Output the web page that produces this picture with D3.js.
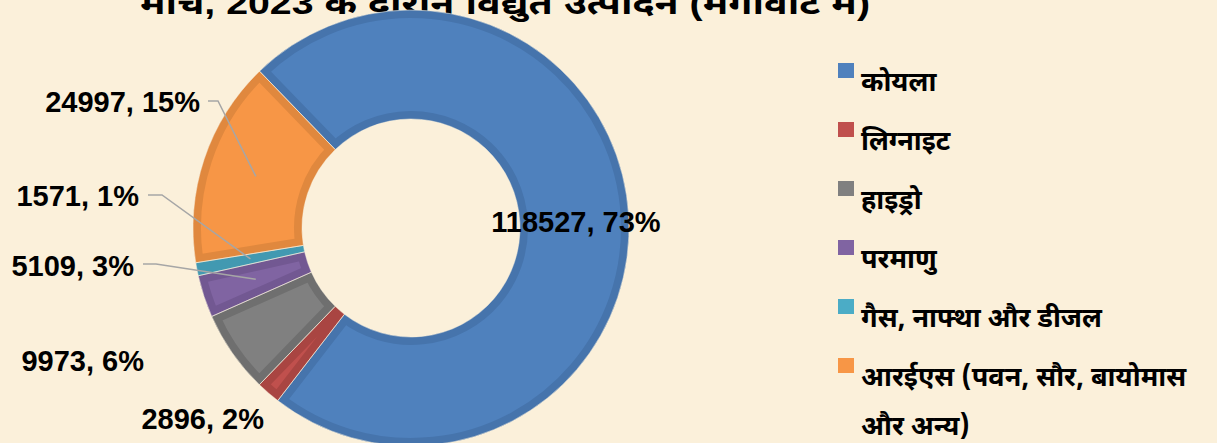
<!DOCTYPE html>
<html><head><meta charset="utf-8">
<script src="https://cdn.jsdelivr.net/npm/d3@7"></script>
<style>
html,body{margin:0;padding:0;background:#FBF0DA;overflow:hidden}
svg{display:block}
</style></head>
<body>
<svg id="c" width="1217" height="443"></svg>
<script>
const title = "मार्च, 2023 के दौरान विद्युत उत्पादन (मेगावाट में)";
const categories = ["कोयला","लिग्नाइट","हाइड्रो","परमाणु","गैस, नाफ्था और डीजल","आरईएस (पवन, सौर, बायोमास और अन्य)"];
const values = [118527, 2896, 9973, 5109, 1571, 24997];
const percents = [73, 2, 6, 3, 1, 15];
const colors = ["#4F81BD","#C0504D","#808080","#8064A2","#4BACC6","#F79646"];
const borders = ["#4674AC","#A94542","#6F6F6F","#725892","#4299B1","#E0883E"];

const W = 1217, H = 443;
const svg = d3.select("#c");
const hindi = "'Noto Sans Devanagari','Noto Sans','Lohit Devanagari','Mangal',sans-serif";
const latin = "'Liberation Sans',Arial,sans-serif";

// title (top is cut off in reference)
svg.append("text").attr("x", 505).attr("y", 14).attr("text-anchor","middle")
  .attr("textLength", 730).attr("lengthAdjust","spacingAndGlyphs")
  .style("font-family", latin + "," + hindi).style("font-weight","bold").style("font-size","31px")
  .attr("fill","#000").text(title);

const cx = 411, cy = 228, rOuter = 218, rInner = 109;
const g = svg.append("g").attr("transform", `translate(${cx},${cy})`);
const start = -44 * Math.PI / 180;
const pie = d3.pie().sort(null).startAngle(start).endAngle(start + 2*Math.PI);
const arcs = pie(values);
const arc = d3.arc().innerRadius(rInner).outerRadius(rOuter);
const defs = svg.append("defs");

arcs.forEach((d,i) => {
  defs.append("clipPath").attr("id","clip"+i).append("path").attr("d", arc(d));
});
g.selectAll("path.slice").data(arcs).enter().append("path").attr("class","slice")
  .attr("d", arc)
  .attr("fill", (d,i)=>colors[i])
  .attr("stroke", (d,i)=>borders[i])
  .attr("stroke-width", 16)
  .attr("stroke-linejoin","miter")
  .attr("clip-path", (d,i)=>`url(#clip${i})`);

g.selectAll("path.sep").data(arcs).enter().append("path").attr("class","sep")
  .attr("d", arc).attr("fill","none").attr("stroke","#F6EEDC").attr("stroke-width",0.8).attr("stroke-opacity",0.7);

// data labels
const labelLayout = [
  {x: 576, y: 232, anchor: "middle", leader: null},
  {x: 264, y: 429, anchor: "end", leader: null},
  {x: 144, y: 371, anchor: "end", leader: null},
  {x: 134, y: 276, anchor: "end", leader: [143, 264, 156]},
  {x: 139, y: 206, anchor: "end", leader: [148, 195, 162]},
  {x: 200, y: 112, anchor: "end", leader: [208, 101, 218]}
];
const midArc = d3.arc().innerRadius((rInner+rOuter)/2).outerRadius((rInner+rOuter)/2);
arcs.forEach((d,i) => {
  const L = labelLayout[i];
  if (L.leader) {
    const c = midArc.centroid(d);
    const px = c[0] + cx, py = c[1] + cy;
    svg.append("path")
      .attr("d", d3.line()([[L.leader[0], L.leader[1]],[L.leader[2], L.leader[1]],[px, py]]))
      .attr("fill","none").attr("stroke","#A6A6A6").attr("stroke-width",1.5);
  }
  svg.append("text").attr("x", L.x).attr("y", L.y).attr("text-anchor", L.anchor)
    .style("font-family", latin).style("font-weight","bold").style("font-size", "29px")
    .attr("fill","#000").text(`${values[i]}, ${percents[i]}%`);
});

// legend
const lg = svg.append("g");
const legX = 838, legY0 = 63, legStep = 59, textX = 861, maxW = W - textX - 4;
categories.forEach((name,i) => {
  const y = legY0 + i*legStep;
  lg.append("rect").attr("x", legX).attr("y", y).attr("width", 16).attr("height", 15).attr("fill", colors[i]);
  const t = lg.append("text").attr("x", textX).attr("y", y + 28)
    .style("font-family", hindi).style("font-weight","bold").style("font-size","27px").attr("fill","#000");
  const words = name.split(" ");
  let line = [], tspan = t.append("tspan").attr("x", textX).attr("dy", 0);
  words.forEach(w => {
    line.push(w);
    tspan.text(line.join(" "));
    if (tspan.node().getComputedTextLength() > maxW && line.length > 1) {
      line.pop(); tspan.text(line.join(" "));
      line = [w];
      tspan = t.append("tspan").attr("x", textX).attr("dy", 49).text(w);
    }
  });
});
</script>
</body></html>
